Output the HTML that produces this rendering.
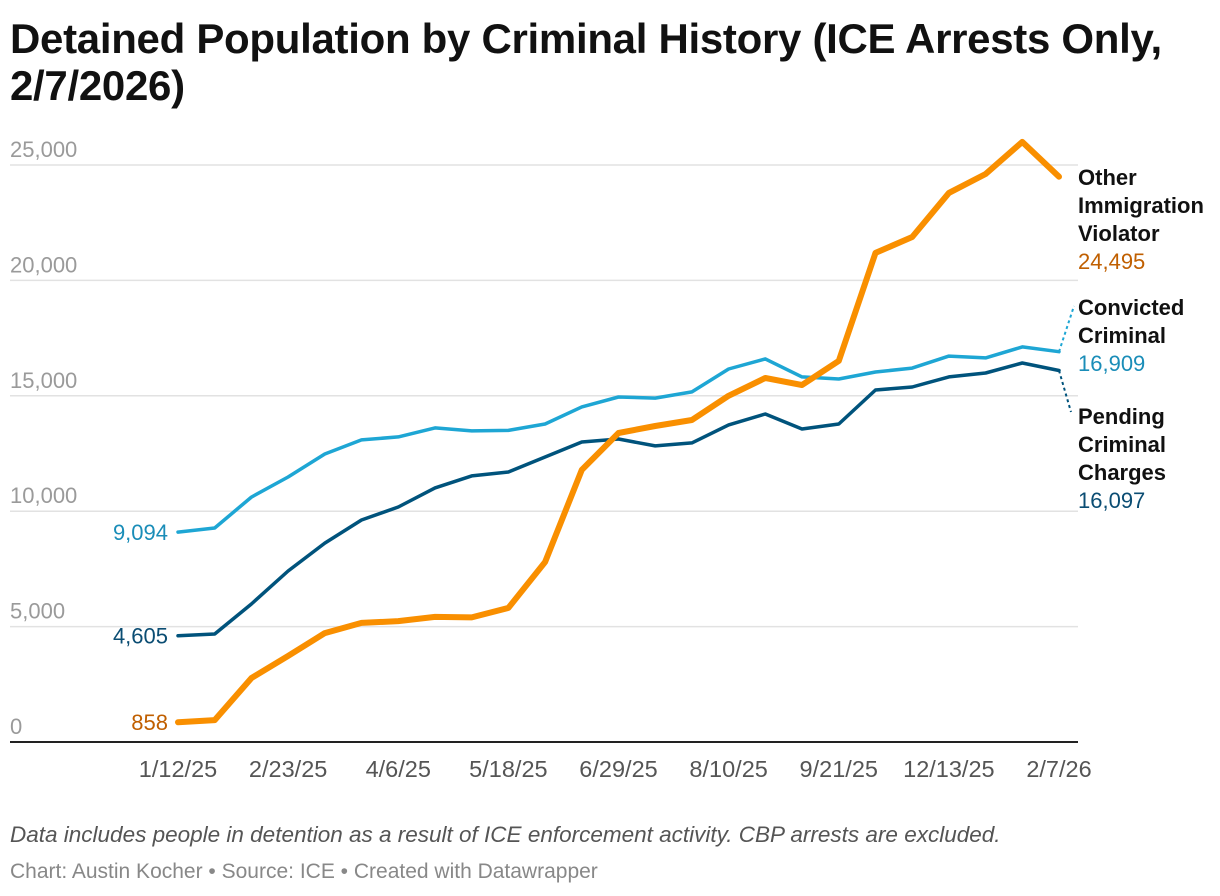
<!DOCTYPE html>
<html><head><meta charset="utf-8"><style>
body{margin:0;background:#fff;width:1220px;height:896px;overflow:hidden;font-family:"Liberation Sans",Arial,sans-serif}
h1{position:absolute;left:10px;top:15px;margin:0;font-size:42px;line-height:47px;font-weight:bold;color:#111;width:1205px;letter-spacing:-0.3px}
.note{position:absolute;left:10px;top:822px;font-size:22.5px;font-style:italic;color:#555}
.credit{position:absolute;left:10px;top:860px;font-size:21px;color:#888}
</style></head><body>
<h1>Detained Population by Criminal History (ICE Arrests Only, 2/7/2026)</h1>
<svg id="chart" width="1220" height="896" style="position:absolute;left:0;top:0"></svg>
<div class="note">Data includes people in detention as a result of ICE enforcement activity. CBP arrests are excluded.</div>
<div class="credit">Chart: Austin Kocher • Source: ICE • Created with Datawrapper</div>
<script>
const categories=["1/12/25","1/26/25","2/9/25","2/23/25","3/9/25","3/23/25","4/6/25","4/20/25","5/4/25","5/18/25","6/1/25","6/15/25","6/29/25","7/13/25","7/27/25","8/10/25","8/24/25","9/7/25","9/21/25","10/19/25","11/15/25","12/13/25","1/10/26","1/24/26","2/7/26"];
const otherViolator=[858,950,2770,3730,4720,5160,5240,5420,5400,5810,7800,11790,13390,13690,13950,15000,15770,15470,16510,21190,21880,23790,24610,26000,24495];
const convicted=[9094,9270,10610,11480,12480,13090,13220,13610,13480,13500,13780,14520,14950,14900,15170,16160,16600,15820,15730,16030,16200,16720,16640,17120,16909];
const pending=[4605,4680,5980,7410,8620,9620,10180,11010,11530,11700,12350,13000,13130,12830,12960,13740,14210,13560,13780,15250,15380,15820,15990,16420,16097];
const yTicks=[0,5000,10000,15000,20000,25000];
const xTickEvery=3;
const NS="http://www.w3.org/2000/svg";
const svg=document.getElementById('chart');
const x0=178,x1=1059,yBase=742,yTop=165;
const X=i=>x0+(x1-x0)*i/(categories.length-1);
const Y=v=>yBase-(yBase-yTop)*v/25000;
function mk(t,a){const e=document.createElementNS(NS,t);for(const k in a)e.setAttribute(k,a[k]);svg.appendChild(e);return e;}
const fmt=v=>v.toLocaleString('en-US');
yTicks.forEach(v=>{
  if(v>0){const g=mk('line',{x1:10,x2:1078,y1:Y(v),y2:Y(v),stroke:'#e2e2e2','stroke-width':1.5});
  
  }
  const t=mk('text',{x:10,y:Y(v)-8,'font-size':22,fill:'#9a9a9a'});t.textContent=fmt(v);
  
  
});
const ax=mk('line',{x1:10,x2:1078,y1:yBase,y2:yBase,stroke:'#222','stroke-width':2});


categories.forEach((c,i)=>{if(i%xTickEvery)return;
  const t=mk('text',{x:X(i),y:777,'font-size':23.5,fill:'#555','text-anchor':'middle'});t.textContent=c;
  
  
});
function line(data,color,w,name){
  const d=data.map((v,i)=>(i?'L':'M')+X(i).toFixed(1)+','+Y(v).toFixed(1)).join('');
  const p=mk('path',{d:d,fill:'none',stroke:color,'stroke-width':w,'stroke-linejoin':'round','stroke-linecap':'round'});
  
  
}
line(convicted,'#1ea6d4',3.5,'convicted-criminal-line');
line(pending,'#00537c',3.5,'pending-charges-line');
line(otherViolator,'#f98f00',6,'other-violator-line');
function startLabel(v,color,name){const t=mk('text',{x:168,y:Y(v)+8,'font-size':22,fill:color,'text-anchor':'end'});t.textContent=fmt(v);
  
  }
startLabel(convicted[0],'#1a8db8','convicted-start-label');
startLabel(pending[0],'#0b4d73','pending-start-label');
startLabel(otherViolator[0],'#c05f00','other-start-label');
const L=convicted.length-1;
const c1=mk('line',{x1:X(L),y1:Y(convicted[L]),x2:1074,y2:306,stroke:'#1ea6d4','stroke-width':2,'stroke-dasharray':'3,3'});


const c2=mk('line',{x1:X(L),y1:Y(pending[L]),x2:1071,y2:412,stroke:'#00537c','stroke-width':2,'stroke-dasharray':'3,3'});


function endLabel(lines,val,color,y,name){
  lines.forEach((s,k)=>{const t=mk('text',{x:1078,y:y+k*28,'font-size':22,'font-weight':'bold',fill:'#111'});t.textContent=s;
    
    });
  const t=mk('text',{x:1078,y:y+lines.length*28,'font-size':22,fill:color});t.textContent=fmt(val);
  
  
}
endLabel(['Other','Immigration','Violator'],otherViolator[L],'#c05f00',185,'other-violator-label');
endLabel(['Convicted','Criminal'],convicted[L],'#1a8db8',315,'convicted-label');
endLabel(['Pending','Criminal','Charges'],pending[L],'#0b4d73',424,'pending-label');
</script>
</body></html>
